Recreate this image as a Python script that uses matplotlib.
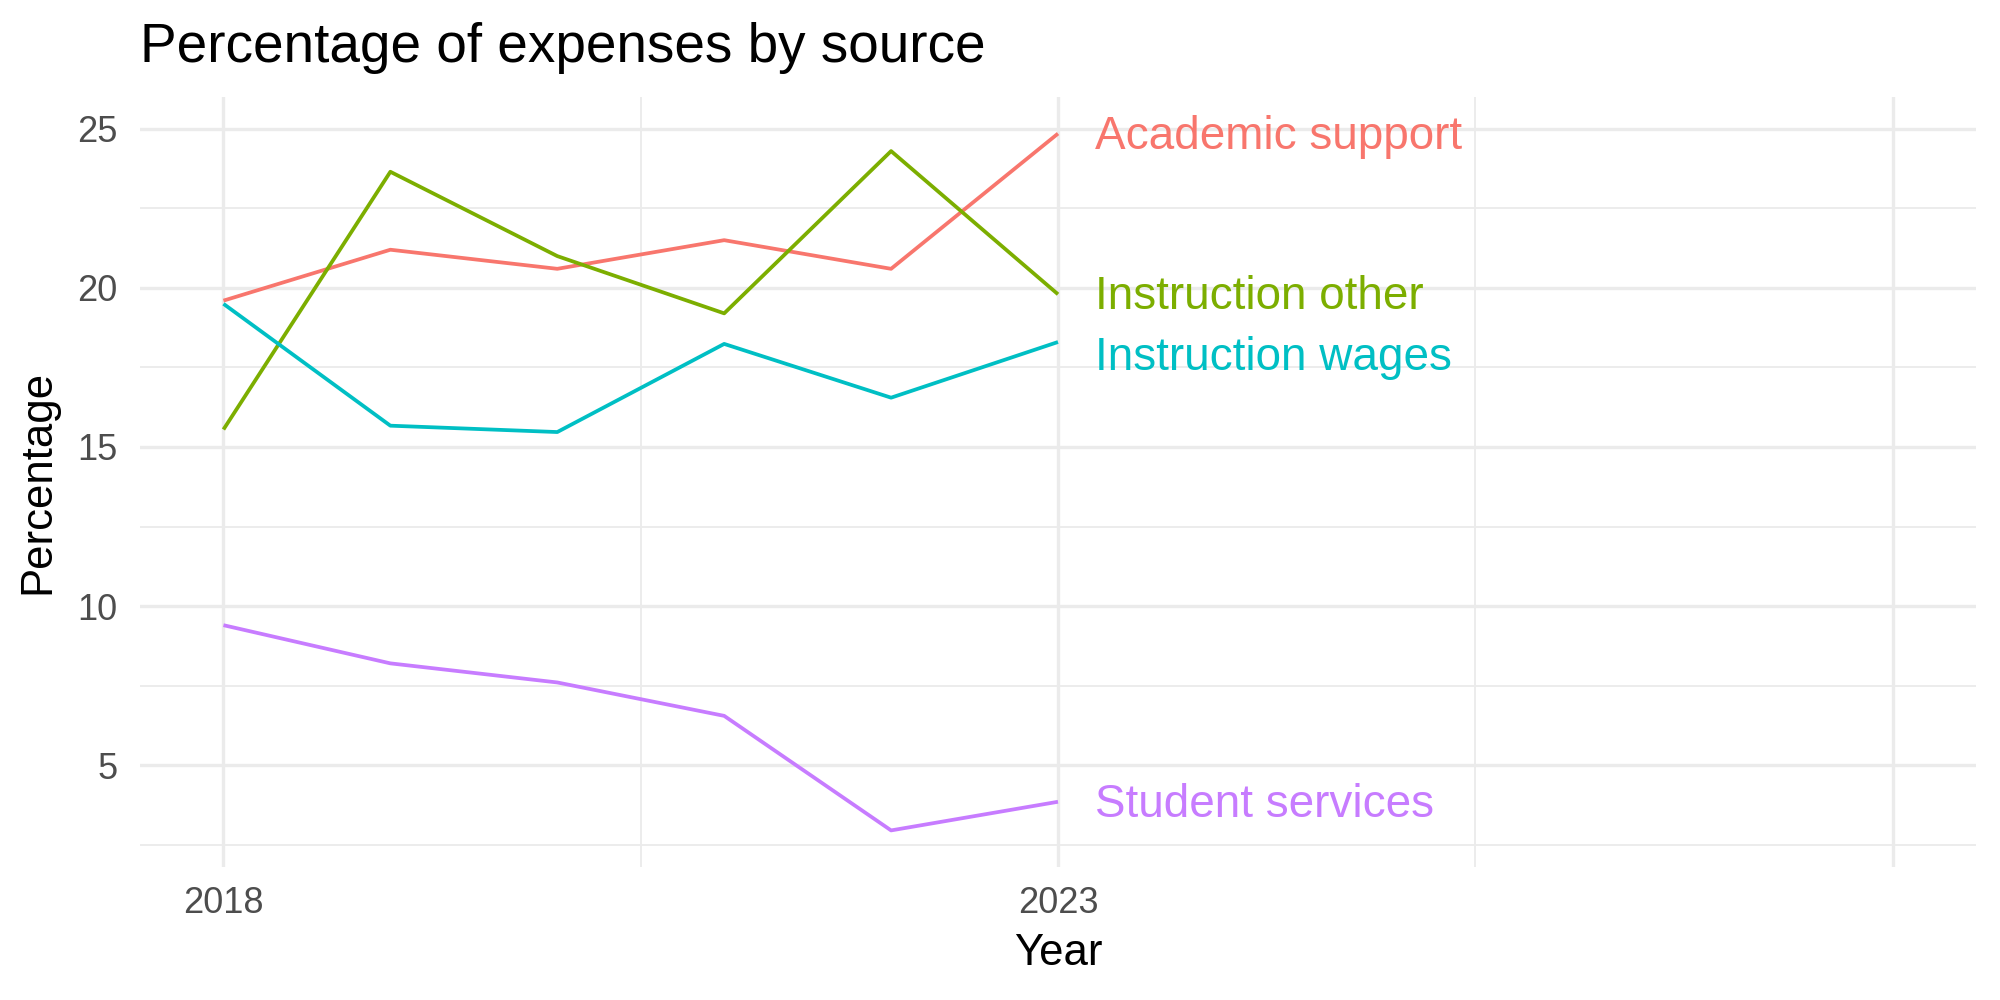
import matplotlib.pyplot as plt
import numpy as np

plt.rcParams['font.family'] = ['Liberation Sans', 'DejaVu Sans']

years = [2018, 2019, 2020, 2021, 2022, 2023]
sources = ['Academic support', 'Instruction other', 'Instruction wages', 'Student services']
academic_support = [19.6, 21.2, 20.6, 21.5, 20.6, 24.85]
instruction_other = [15.55, 23.65, 21.0, 19.2, 24.3, 19.8]
instruction_wages = [19.5, 15.67, 15.47, 18.24, 16.55, 18.3]
student_services = [9.4, 8.2, 7.6, 6.55, 2.95, 3.85]
colors = ['#F8766D', '#7CAE00', '#00BFC4', '#C77CFF']
x_breaks = [2018, 2023, 2028]
x_labels = ['2018', '2023', '']
y_breaks = [5, 10, 15, 20, 25]

series = [academic_support, instruction_other, instruction_wages, student_services]

fig = plt.figure(figsize=(20, 10), dpi=100)
ax = fig.add_axes([0.07, 0.133, 0.918, 0.770])

for vals, col in zip(series, colors):
    ax.plot(years, vals, color=col, lw=2.7, solid_capstyle='butt', zorder=3)

# simple repel for end labels so they don't overlap
ends = [v[-1] for v in series]
order = np.argsort(ends)[::-1]
label_y = list(ends)
prev = None
for i in order:
    if prev is not None and label_y[prev] - label_y[i] < 1.9:
        label_y[i] = label_y[prev] - 1.9
    prev = i

for name, ly, col in zip(sources, label_y, colors):
    ax.text(years[-1] + 0.22, ly - 0.1, name, color=col, fontsize=33, va='center', ha='left')

ax.set_xlim(2017.5, 2028.5)
ax.set_ylim(1.8, 26.0)
ax.set_xticks(x_breaks)
ax.set_xticklabels(x_labels)
ax.set_xticks([2020.5, 2025.5], minor=True)
ax.set_yticks(y_breaks)
ax.set_yticks([2.5, 7.5, 12.5, 17.5, 22.5], minor=True)

ax.grid(which='major', color='#EBEBEB', lw=2.4)
ax.grid(which='minor', color='#EBEBEB', lw=1.3)
ax.set_axisbelow(True)
for s in ax.spines.values():
    s.set_visible(False)
ax.tick_params(which='both', length=0)
ax.tick_params(axis='x', labelsize=26, colors='#4D4D4D', pad=14)
ax.tick_params(axis='y', labelsize=26, colors='#4D4D4D', pad=16)

ax.set_xlabel('Year', fontsize=31.5, labelpad=8)
ax.set_ylabel('Percentage', fontsize=31.5, labelpad=14)
fig.text(0.07, 0.952, 'Percentage of expenses by source', fontsize=39.5, va='center', ha='left')

fig.savefig('out.png', dpi=100, facecolor='white')
